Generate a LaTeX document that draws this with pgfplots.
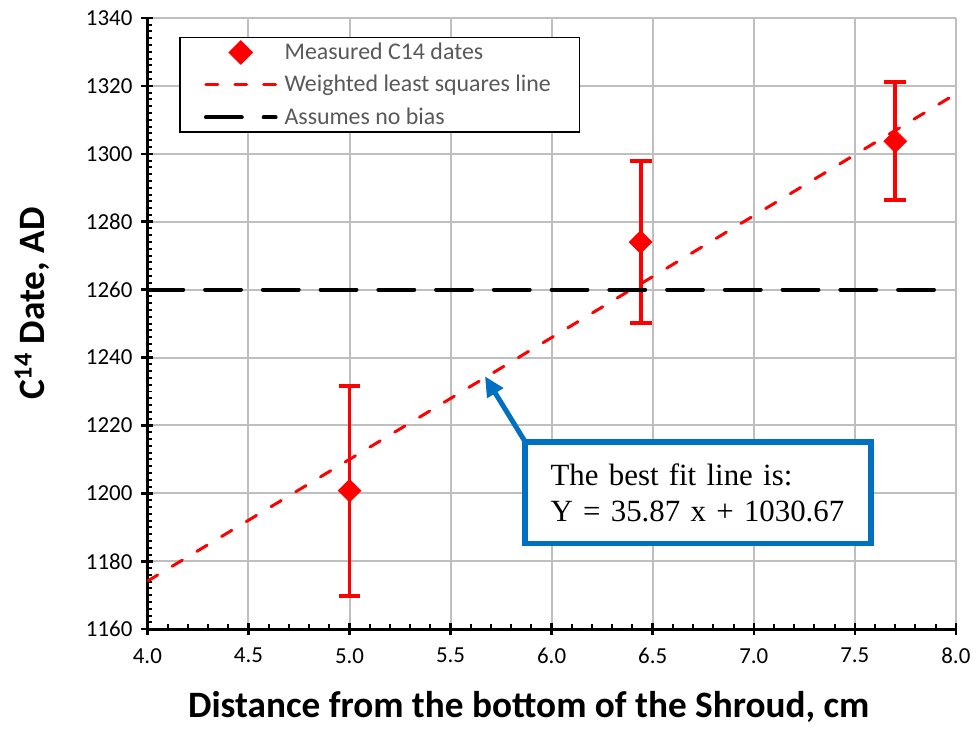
\documentclass[border=0pt]{standalone}
\usepackage{fontspec}
\setmainfont{Carlito}
\newfontfamily\tnr{Liberation Serif}
\usepackage{pgfplots}
\pgfplotsset{compat=1.18}
\usetikzlibrary{arrows.meta}

\definecolor{gridgray}{HTML}{BFBFBF}
\definecolor{legtext}{HTML}{595959}
\definecolor{boxblue}{HTML}{0070C0}

\pgfplotsset{
  lineleg/.style={legend image code/.code={\draw[##1] (0pt,0pt) -- (35pt,0pt);}},
  markleg/.style={legend image code/.code={\draw[mark repeat=2, mark phase=2, ##1] plot coordinates {(0pt,0pt) (17.5pt,0pt) (35pt,0pt)};}},
}

\begin{document}
\begin{tikzpicture}
\begin{axis}[
  scale only axis,
  width=406pt, height=307pt,
  xmin=4, xmax=8, ymin=1160, ymax=1340,
  xtick={4,4.5,...,8}, ytick={1160,1180,...,1340},
  minor x tick num=4, minor y tick num=9,
  axis lines=left,
  axis line style={-, line width=1.5pt},
  tick style={black, line width=1.2pt},
  tick align=center,
  major tick length=6pt,
  minor tick length=2.5pt,
  minor x tick style={yshift=1.25pt, line width=1pt},
  minor y tick style={xshift=1.25pt, line width=1pt},
  grid=major,
  major grid style={gridgray, line width=1pt},
  /pgf/number format/assume math mode=true,
  tick label style={font=\fontsize{11.5}{14}\selectfont},
  xticklabel style={yshift=-3pt, /pgf/number format/fixed, /pgf/number format/fixed zerofill, /pgf/number format/precision=1},
  yticklabel style={xshift=-1pt, /pgf/number format/1000 sep={}},
  xlabel={\textbf{Distance from the bottom of the Shroud, cm}},
  ylabel={\textbf{C\textsuperscript{14} Date, AD}},
  label style={font=\fontsize{18.7}{22}\selectfont},
  xlabel style={at={(rel axis cs:0.4717,-0.127)}, anchor=center},
  ylabel style={at={(rel axis cs:-0.1429,0.5326)}, anchor=center, rotate=0},
  legend style={at={(rel axis cs:0.0394,0.969)}, anchor=north west,
    draw=black, line width=0.8pt, fill=white,
    font=\fontsize{12}{14}\selectfont, text=legtext,
    inner xsep=12pt, inner ysep=1pt, row sep=3.5pt, column sep=2pt,
    nodes={inner sep=1.5pt}},
  legend cell align=left,
  clip mode=individual,
]
\coordinate (bbl) at (rel axis cs:-0.1823,-0.1612);
\coordinate (bbr) at (rel axis cs:1.0209,1.0293);

\addplot[only marks, red, mark=square*, mark size=4pt,
  mark options={rotate=45, fill=red, draw=red}, markleg,
  error bars/.cd, y dir=both, y explicit,
  error bar style={red, line width=2pt},
  error mark options={red, line width=2pt, mark size=5.5pt, rotate=90},
  ] coordinates {
  (5.00, 1200.8) +- (0, 30.9)
  (6.44, 1274.0) +- (0, 23.9)
  (7.70, 1303.7) +- (0, 17.3)
};
\addlegendentry{Measured C14 dates}

\addplot[red, line width=1.5pt, line cap=round, dash pattern=on 6pt off 8.5pt, lineleg] coordinates {
  (4, 1174.15) (8, 1317.63)
};
\addlegendentry{Weighted least squares line\hspace*{1pt}}

\addplot[black, line width=2pt, line cap=round, dash pattern=on 18pt off 11pt, lineleg] coordinates {
  (4, 1260) (8, 1260)
};
\addlegendentry{Assumes no bias}

\draw[boxblue, line width=2.5pt, -{Triangle[length=10pt, width=9pt]}]
  (axis cs:5.867,1215.4) -- (axis cs:5.67,1234.5);
\node[draw=boxblue, line width=3pt, fill=white, minimum width=174pt, minimum height=51pt,
  text width=148pt, align=left, inner xsep=13pt, font=\tnr\fontsize{15.5}{18}\selectfont]
  at (axis cs:6.724,1200.2) {The best fit line is:\\Y = 35.87 x + 1030.67};
\end{axis}
\path (bbl) rectangle (bbr);
\end{tikzpicture}
\end{document}
